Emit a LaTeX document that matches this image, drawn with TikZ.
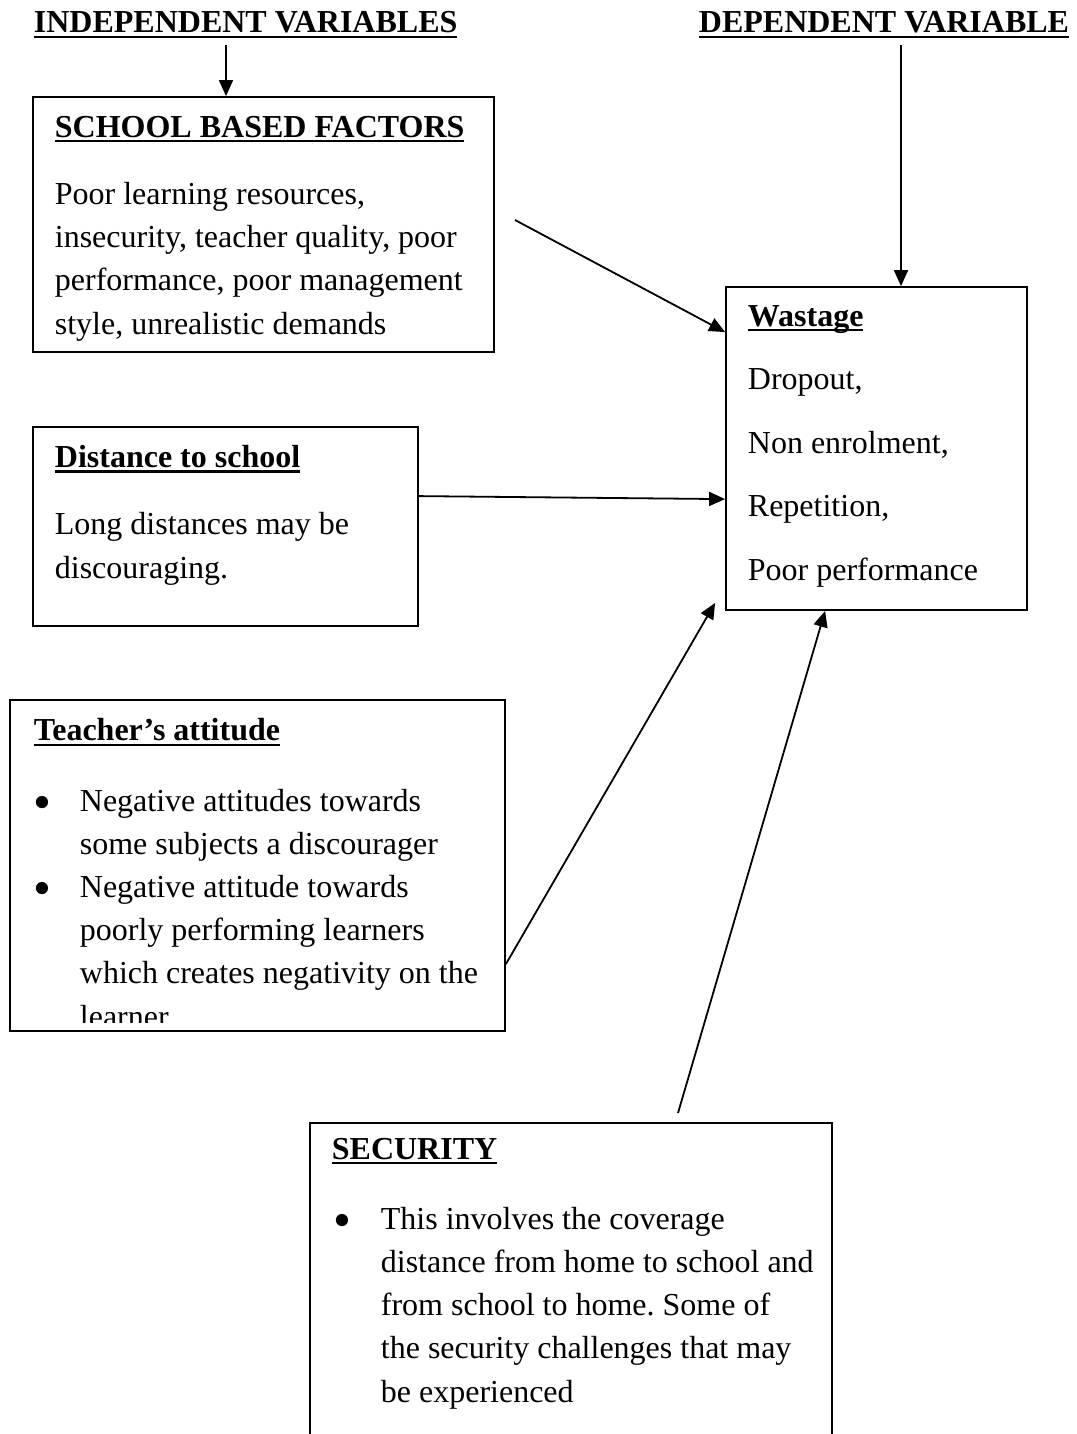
\documentclass[tikz,border=0pt]{standalone}
\usepackage{graphicx}
\usepackage{fontspec}
\setmainfont{Liberation Serif}
\usetikzlibrary{positioning}
\usetikzlibrary{calc}
\usetikzlibrary{fit}
\usetikzlibrary{arrows.meta}
\frenchspacing
\newcommand{\ulbar}[1]{\setbox0\hbox{#1}\rlap{\rule[-2.6pt]{\wd0}{1.2pt}}\box0}
\newcommand{\bul}[1]{\makebox[#1][l]{\raisebox{-4pt}{\scalebox{1.6}{\textbullet}}}}

\begin{document}
\begin{tikzpicture}[->,>={Triangle[length=8pt,width=7pt]},line width=0.9pt,x=0.5pt,y=-0.5pt]
		\tikzstyle{box}=[draw,rectangle,inner sep=0pt]
		\tikzstyle{txt}=[anchor=base west,inner sep=0pt,align=left,font=\fontsize{16}{21.6}\selectfont]
		\tikzstyle{head}=[anchor=base west,inner sep=0pt,font=\fontsize{16}{21.6}\selectfont\bfseries]
		\useasboundingbox (0,0) rectangle (1076,1434);
		
		% headings
		\node[head] (IV) at (33,33)  {\ulbar{INDEPENDENT VARIABLES}};
		\node[head] (DV) at (698,33) {\ulbar{DEPENDENT VARIABLE}};
		
		% boxes
		\node[box, fit={(33,97) (494,352)}]    (SBF) {};
		\node[box, fit={(726,287) (1027,610)}] (W)   {};
		\node[box, fit={(33,427) (418,626)}]   (DTS) {};
		\node[box, fit={(10,700) (505,1031)}]  (TA)  {};
		\node[box, fit={(310,1123) (832,1445)}] (SEC) {};
		
		% texts (anchored at the last baseline)
		\node[txt] (SBFt) at (54,334) {\textbf{\ulbar{SCHOOL BASED FACTORS}}\\[12pt]
			Poor learning resources,\\
			insecurity, teacher quality, poor\\
			performance, poor management\\
			style, unrealistic demands};
		\node[txt, font=\fontsize{16}{31.75}\selectfont] (Wt) at (747,580) {\textbf{\ulbar{Wastage}}\\
			Dropout,\\
			Non enrolment,\\
			Repetition,\\
			Poor performance};
		\node[txt] (DTSt) at (54,578) {\textbf{\ulbar{Distance to school}}\\[12pt]
			Long distances may be\\
			discouraging.};
		\begin{scope}
			\clip (TA.north west) rectangle ($(TA.south east)+(0,-9)$);
			\node[txt] (TAt) at (33,1027) {\textbf{\ulbar{Teacher’s attitude}}\\[13.5pt]
				\bul{23pt}Negative attitudes towards\\
				\hspace*{23pt}some subjects a discourager\\
				\bul{23pt}Negative attitude towards\\
				\hspace*{23pt}poorly performing learners\\
				\hspace*{23pt}which creates negativity on the\\
				\hspace*{23pt}learner};
		\end{scope}
		\node[txt] (SECt) at (331,1402) {\textbf{\ulbar{SECURITY}}\\[13.5pt]
			\hspace*{1pt}\bul{23.5pt}This involves the coverage\\
			\hspace*{24.5pt}distance from home to school and\\
			\hspace*{24.5pt}from school to home. Some of\\
			\hspace*{24.5pt}the security challenges that may\\
			\hspace*{24.5pt}be experienced};
		
		% free ends
		\coordinate (IVa) at (226,45);
		\coordinate (DVa) at (901,45);
		\coordinate (SBFa) at (515,220);
		\coordinate (SECa) at (678,1113);
		
		\draw (IVa) -- (IVa |- SBF.north);
		\draw (DVa) -- (DVa |- W.north);
		\draw (SBFa) -- ($(W.north west)+(0,46)$);
		\draw ($(DTS.north east)+(0,70)$) -- ($(W.north west)+(0,213)$);
		\draw ($(TA.north east)+(0,265)$) -- ($(W.south west)+(-10,-8)$);
		\draw (SECa) -- ($(W.south west)+(100,0)$);
\end{tikzpicture}
\end{document}
